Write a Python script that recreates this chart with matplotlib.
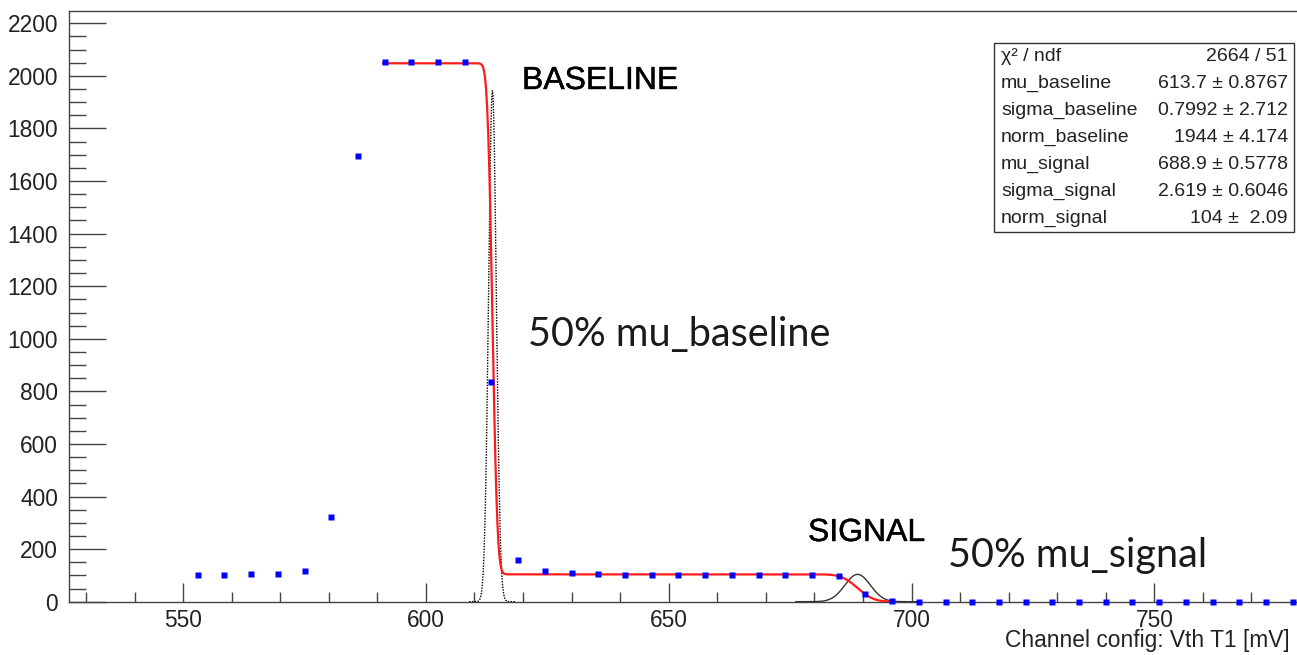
import math
import numpy as np
import matplotlib
matplotlib.use("Agg")
import matplotlib.pyplot as plt
import matplotlib.patheffects as pe
from matplotlib.patches import Rectangle
from matplotlib.ticker import MultipleLocator

# Threshold scan: counts vs. channel threshold
x_mv = [553.0, 558.5, 564.0, 569.5, 575.0, 580.5, 586.0, 591.5, 597.0, 602.5,
        608.0, 613.5, 619.0, 624.5, 630.0, 635.5, 641.0, 646.5, 652.0, 657.5,
        663.0, 668.5, 674.0, 679.5, 685.0, 690.5, 696.0, 701.5, 707.0, 712.5,
        718.0, 723.5, 729.0, 734.5, 740.0, 745.5, 751.0, 756.5, 762.0, 767.5,
        773.0, 778.5]
counts = [100, 100, 105, 105, 116, 322, 1695, 2052, 2052, 2052,
          2052, 835, 159, 115, 108, 104, 103, 103, 103, 103,
          103, 103, 103, 103, 99, 31, 3, 0, 0, 0,
          0, 0, 0, 0, 0, 0, 0, 0, 0, 0,
          0, 0]

# Fit results (double erfc step)
mu_baseline, sigma_baseline, norm_baseline = 613.7, 0.7992, 1944.0
mu_signal, sigma_signal, norm_signal = 688.9, 2.619, 104.0
fit_range = (591.2, 696.0)

stat_names = ["\u03c7\u00b2 / ndf", "mu_baseline", "sigma_baseline", "norm_baseline",
              "mu_signal", "sigma_signal", "norm_signal"]
stat_values = ["2664 / 51", "613.7 \u00b1 0.8767", "0.7992 \u00b1 2.712", "1944 \u00b1 4.174",
               "688.9 \u00b1 0.5778", "2.619 \u00b1 0.6046", "104 \u00b1  2.09"]

plt.rcParams['font.family'] = ['Liberation Sans', 'DejaVu Sans']

W, H = 1297, 655
fig = plt.figure(figsize=(W / 100, H / 100), dpi=100)
fig.patch.set_facecolor('white')


def fx(px):
    return px / W


def fy(py):
    return 1 - py / H


ax = fig.add_axes([fx(69), fy(601.7), fx(1300) - fx(69), fy(10.7) - fy(601.7)])
ax.set_xlim(526.5, 780.0)
ax.set_ylim(0, 2248)

frame_col = '#444444'
for s in ax.spines.values():
    s.set_color(frame_col)
    s.set_linewidth(1.0)

ax.xaxis.set_major_locator(MultipleLocator(50))
ax.xaxis.set_minor_locator(MultipleLocator(10))
ax.yaxis.set_major_locator(MultipleLocator(200))
ax.yaxis.set_minor_locator(MultipleLocator(50))
ax.tick_params(axis='x', which='major', direction='in', length=13.7, width=1,
               color=frame_col, pad=5, labelsize=16.4, labelcolor='#222222')
ax.tick_params(axis='x', which='minor', direction='in', length=7.2, width=1, color=frame_col)
ax.tick_params(axis='y', which='major', direction='in', length=26.6, width=1,
               color=frame_col, pad=8, labelsize=16.4, labelcolor='#222222')
ax.tick_params(axis='y', which='minor', direction='in', length=12.2, width=1, color=frame_col)

sq2 = math.sqrt(2.0)
erfc = np.vectorize(math.erfc)

# Fitted step function
xs = np.linspace(fit_range[0], fit_range[1], 500)
fit = (norm_baseline * 0.5 * erfc((xs - mu_baseline) / (sq2 * sigma_baseline))
       + norm_signal * 0.5 * erfc((xs - mu_signal) / (sq2 * sigma_signal)))

# Gaussian components
xb = np.linspace(mu_baseline - 6 * sigma_baseline, mu_baseline + 6 * sigma_baseline, 300)
gb = norm_baseline * np.exp(-0.5 * ((xb - mu_baseline) / sigma_baseline) ** 2)
xsig = np.linspace(mu_signal - 4.85 * sigma_signal, mu_signal + 4.85 * sigma_signal, 300)
gs = norm_signal * np.exp(-0.5 * ((xsig - mu_signal) / sigma_signal) ** 2)

ax.plot(xb, gb, color='black', lw=1.0, ls=(0, (1, 1)), zorder=3)
ax.plot(xsig, gs, color='#333333', lw=1.0, zorder=3)
ax.plot(xs, fit, color='#ff1a1a', lw=1.6, zorder=4)
ax.plot(x_mv, counts, 's', color='#0000ff', ms=5, mec='none', zorder=5, clip_on=False)

# Axis title
fig.text(fx(1290), fy(641), "Channel config: Vth T1 [mV]", ha='right', va='center',
         fontsize=16.4, color='#222222')

# Statistics box
box_l, box_t, box_r, box_b = 994, 43, 1294, 232
fig.add_artist(Rectangle((fx(box_l), fy(box_b)), fx(box_r) - fx(box_l), fy(box_t) - fy(box_b),
                         transform=fig.transFigure, facecolor='white', edgecolor='#333333',
                         lw=1.0, zorder=10))
row_h = (box_b - box_t) / len(stat_names)
for i, (name, val) in enumerate(zip(stat_names, stat_values)):
    yc = box_t + row_h * (i + 0.5)
    fig.text(fx(1001), fy(yc), name, ha='left', va='center', fontsize=14,
             color='#222222', zorder=11)
    fig.text(fx(1288), fy(yc), val, ha='right', va='center', fontsize=14,
             color='#222222', zorder=11)

# Annotations
heavy = [pe.withStroke(linewidth=0.3, foreground='black')]
fig.text(fx(522), fy(89), "BASELINE", ha='left', va='baseline', fontsize=23,
         color='black', path_effects=heavy)
fig.text(fx(808), fy(541), "SIGNAL", ha='left', va='baseline', fontsize=23,
         color='black', path_effects=heavy)
fig.text(fx(528), fy(346), "50% mu_baseline", ha='left', va='baseline', fontsize=28.5,
         family=['Lato', 'DejaVu Sans'], color='#1a1a1a')
fig.text(fx(948), fy(567), "50% mu_signal", ha='left', va='baseline', fontsize=28.5,
         family=['Lato', 'DejaVu Sans'], color='#1a1a1a')

fig.savefig("out.png", dpi=100, facecolor='white')
